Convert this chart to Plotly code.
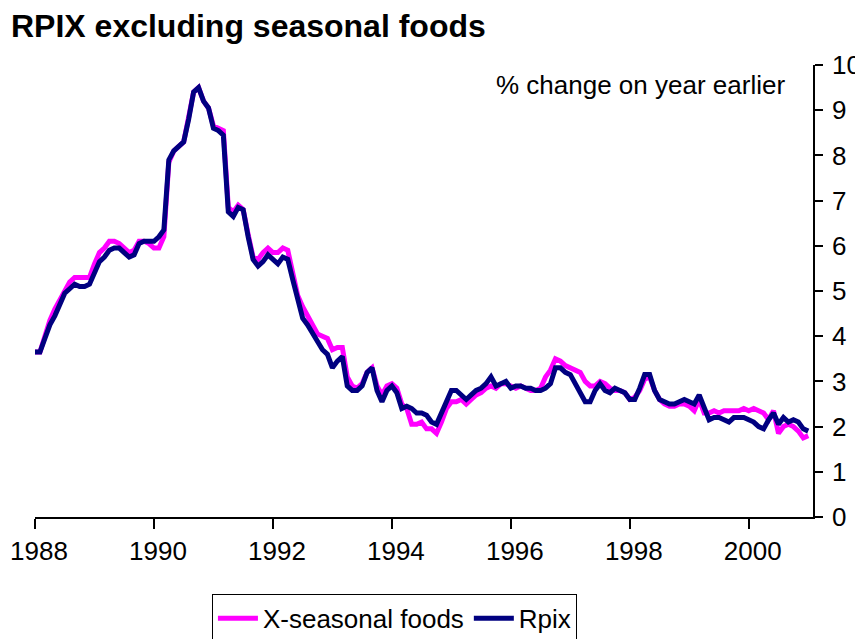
import plotly.graph_objects as go

# Monthly data, Jan 1988 .. Jan 2001
start_year = 1988
rpix = [
    3.65, 3.65, 3.95, 4.25, 4.45, 4.70, 4.95, 5.05, 5.15, 5.10, 5.10, 5.15,   # 1988
    5.40, 5.65, 5.75, 5.90, 5.95, 5.95, 5.85, 5.75, 5.80, 6.05, 6.10, 6.10,   # 1989
    6.10, 6.20, 6.35, 7.90, 8.10, 8.20, 8.30, 8.80, 9.40, 9.50, 9.20, 9.05,   # 1990
    8.60, 8.55, 8.45, 6.75, 6.65, 6.85, 6.80, 6.20, 5.70, 5.55, 5.65, 5.80,   # 1991
    5.70, 5.60, 5.75, 5.70, 5.25, 4.85, 4.40, 4.25, 4.05, 3.90, 3.70, 3.60,   # 1992
    3.30, 3.45, 3.55, 2.90, 2.80, 2.80, 2.90, 3.20, 3.30, 2.80, 2.55, 2.80,   # 1993
    2.90, 2.75, 2.40, 2.45, 2.40, 2.30, 2.30, 2.25, 2.10, 2.05, 2.30, 2.60,   # 1994
    2.80, 2.80, 2.70, 2.60, 2.70, 2.80, 2.85, 2.95, 3.10, 2.90, 2.95, 3.00,   # 1995
    2.85, 2.90, 2.90, 2.85, 2.85, 2.80, 2.80, 2.85, 2.95, 3.30, 3.30, 3.20,   # 1996
    3.15, 2.95, 2.75, 2.55, 2.55, 2.80, 2.95, 2.80, 2.75, 2.85, 2.80, 2.75,   # 1997
    2.60, 2.60, 2.85, 3.15, 3.15, 2.80, 2.60, 2.55, 2.50, 2.50, 2.55, 2.60,   # 1998
    2.55, 2.50, 2.70, 2.45, 2.15, 2.20, 2.20, 2.15, 2.10, 2.20, 2.20, 2.20,   # 1999
    2.15, 2.10, 2.00, 1.95, 2.15, 2.30, 2.05, 2.20, 2.10, 2.15, 2.10, 1.95,   # 2000
    1.90,                                                                       # 2001
]
x_seasonal = [
    3.65, 3.65, 4.00, 4.35, 4.60, 4.80, 5.00, 5.20, 5.30, 5.30, 5.30, 5.30,   # 1988
    5.60, 5.85, 5.95, 6.10, 6.10, 6.05, 5.95, 5.85, 5.90, 6.10, 6.10, 6.05,   # 1989
    5.95, 5.95, 6.20, 7.85, 8.10, 8.20, 8.30, 8.85, 9.40, 9.50, 9.20, 9.05,   # 1990
    8.65, 8.60, 8.55, 6.85, 6.75, 6.90, 6.80, 6.25, 5.75, 5.70, 5.85, 5.95,   # 1991
    5.85, 5.85, 5.95, 5.90, 5.40, 4.90, 4.65, 4.45, 4.20, 4.05, 4.00, 3.95,   # 1992
    3.70, 3.75, 3.75, 3.10, 2.90, 2.85, 2.95, 3.20, 3.30, 2.90, 2.70, 2.90,   # 1993
    2.95, 2.85, 2.50, 2.40, 2.05, 2.05, 2.10, 1.95, 1.95, 1.85, 2.10, 2.40,   # 1994
    2.55, 2.55, 2.60, 2.50, 2.60, 2.70, 2.75, 2.85, 2.90, 2.85, 2.95, 2.95,   # 1995
    2.90, 2.85, 2.90, 2.85, 2.80, 2.80, 2.85, 3.10, 3.25, 3.50, 3.45, 3.35,   # 1996
    3.30, 3.25, 3.20, 3.00, 2.90, 2.90, 3.00, 2.95, 2.85, 2.80, 2.80, 2.75,   # 1997
    2.60, 2.65, 2.80, 3.05, 3.10, 2.80, 2.60, 2.50, 2.45, 2.45, 2.50, 2.50,   # 1998
    2.45, 2.35, 2.60, 2.30, 2.30, 2.35, 2.30, 2.35, 2.35, 2.35, 2.35, 2.40,   # 1999
    2.35, 2.40, 2.35, 2.30, 2.15, 2.35, 1.85, 2.00, 2.05, 2.00, 1.90, 1.75,   # 2000
    1.80,                                                                       # 2001
]
tick_years = [1988, 1990, 1992, 1994, 1996, 1998, 2000]
y_ticks = list(range(0, 11))

x = [start_year + i / 12 for i in range(len(rpix))]

font = "Liberation Sans, Arial, sans-serif"

fig = go.Figure()
fig.add_trace(go.Scatter(x=x, y=x_seasonal, mode="lines", name="X-seasonal foods",
                         line=dict(color="#FF00FF", width=5)))
fig.add_trace(go.Scatter(x=x, y=rpix, mode="lines", name="Rpix",
                         line=dict(color="#000080", width=5)))

# page body adds an 8px offset, so the figure is 8px smaller and shifted
fig.update_layout(
    width=855, height=631,
    margin=dict(l=27, r=50, t=57, b=122, autoexpand=False),
    paper_bgcolor="white", plot_bgcolor="white",
    font=dict(family=font, size=26, color="black"),
    showlegend=True,
    legend=dict(orientation="h", x=0.462, xanchor="center", y=-0.17, yanchor="top",
                bordercolor="black", borderwidth=1, font=dict(size=26),
                itemwidth=40, tracegroupgap=0),
    xaxis=dict(range=[1988, 2001.08], tickvals=tick_years,
               ticktext=[str(t) for t in tick_years],
               showline=True, linecolor="black", linewidth=1.5,
               ticks="outside", ticklen=10, tickcolor="black", tickwidth=1.5,
               showgrid=False, zeroline=False, ticklabelstandoff=0,
               ticklabelshift=4, ticklabeloverflow="allow", automargin=False),
    yaxis=dict(range=[0, 10], tickvals=y_ticks, side="right",
               showline=True, linecolor="black", linewidth=1.5,
               ticks="outside", ticklen=8, tickcolor="black", tickwidth=1.5,
               showgrid=False, zeroline=False, automargin=False,
               ticklabelstandoff=4, ticklabeloverflow="allow"),
    annotations=[
        dict(text="% change on year earlier", xref="paper", yref="paper",
             x=0.967, y=0.956, xanchor="right", yanchor="middle",
             showarrow=False, font=dict(size=26, family=font)),
        dict(text="<b>RPIX excluding seasonal foods</b>", xref="paper", yref="paper",
             x=-0.033, y=1.086, xanchor="left", yanchor="middle",
             showarrow=False, font=dict(size=32, family=font)),
    ],
)

fig.write_html("out.html")
